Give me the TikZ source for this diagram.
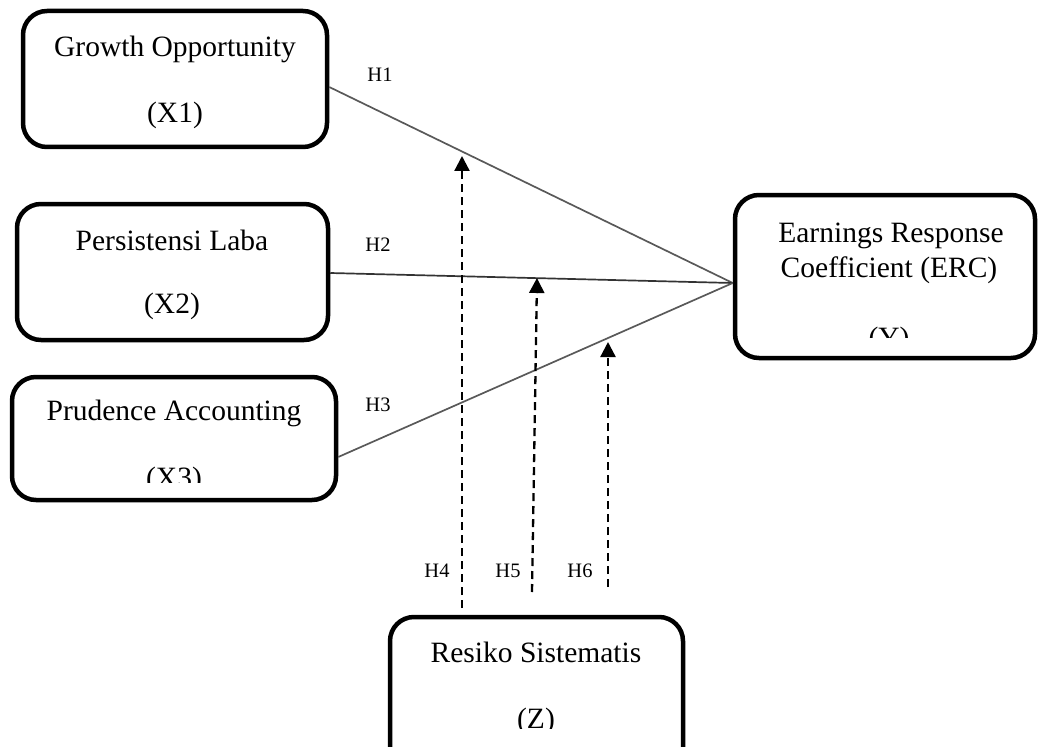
\documentclass[tikz,border=0pt]{standalone}
\usepackage{fontspec}
\setmainfont{Liberation Serif}
\usetikzlibrary{arrows.meta,calc}
\begin{document}
\begin{tikzpicture}[x=1pt,y=-1pt,
  box/.style={draw=black,line width=4.5pt,rounded corners=24pt,inner sep=0pt},
  txt/.style={inner sep=0pt,anchor=base,font=\fontsize{29.5}{35}\selectfont},
  lab/.style={inner sep=0pt,anchor=center,font=\fontsize{20.5}{24}\selectfont},
  path/.style={draw=black!65,line width=1.7pt},
  modline/.style={draw=black,line width=2.3pt,dash pattern=on 8pt off 5pt,-{Triangle[width=15pt,length=15pt]}}]
\useasboundingbox (0,0) rectangle (1040,746);
\clip (0,0) rectangle (1040,746);

% boxes
\node[box,minimum width=304pt,minimum height=136pt] (X1) at (175,79) {};
\node[box,minimum width=311pt,minimum height=136pt] (X2) at (172.5,272) {};
\node[box,minimum width=324pt,minimum height=123pt] (X3) at (174,438.5) {};
\node[box,minimum width=300pt,minimum height=163pt] (Y) at (885,276.5) {};
\node[box,minimum width=293pt,minimum height=200pt] (Z) at (536.5,717) {};

% texts
\node[txt] (t1a) at (175,57) {Growth Opportunity};
\node[txt] (t1b) at (175,123) {(X1)};
\node[txt] (t2a) at (172,250) {Persistensi Laba};
\node[txt] (t2b) at (172,313) {(X2)};
\node[txt] (t3a) at (174,420) {Prudence Accounting};
\begin{scope}
  \clip (0,0) rectangle (1040,482);
  \node[txt] (t3b) at (174,487) {(X3)};
\end{scope}
\node[txt] (tya) at (891,242) {Earnings Response};
\node[txt] (tyb) at (889,277) {Coefficient (ERC)};
\begin{scope}
  \clip (0,0) rectangle (1040,337);
  \node[txt] (tyc) at (889,347) {(Y)};
\end{scope}
\node[txt] (tza) at (536,662) {Resiko Sistematis};
\begin{scope}
  \clip (0,0) rectangle (1040,728);
  \node[txt] (tzb) at (536,728) {(Z)};
\end{scope}

% direct paths
\coordinate (P) at ($(Y.west)+(0,6.5)$);
\coordinate (s1) at ($(X1.east)+(0,8)$);
\coordinate (s2) at ($(X2.east)+(0,1)$);
\coordinate (s3) at ($(X3.east)+(0,18.5)$);
\draw[path] (s1) -- (P);
\draw[path,draw=black!80] (s2) -- (P);
\draw[path] (s3) -- (P);

\node[lab] (H1) at (380,75) {H1};
\node[lab] (H2) at (378,245) {H2};
\node[lab] (H3) at (378,405) {H3};

% moderating paths
\coordinate (d4s) at (462,608);
\coordinate (d4e) at (462,156);
\coordinate (d5s) at (532,592);
\coordinate (d5e) at (537,278);
\coordinate (d6s) at (608,587);
\coordinate (d6e) at (608,342);
\draw[modline] (d4s) -- (d4e);
\draw[modline] (d5s) -- (d5e);
\draw[modline] (d6s) -- (d6e);

\node[lab] (H4) at (437,571) {H4};
\node[lab] (H5) at (508,571) {H5};
\node[lab] (H6) at (580,571) {H6};
\end{tikzpicture}
\end{document}
